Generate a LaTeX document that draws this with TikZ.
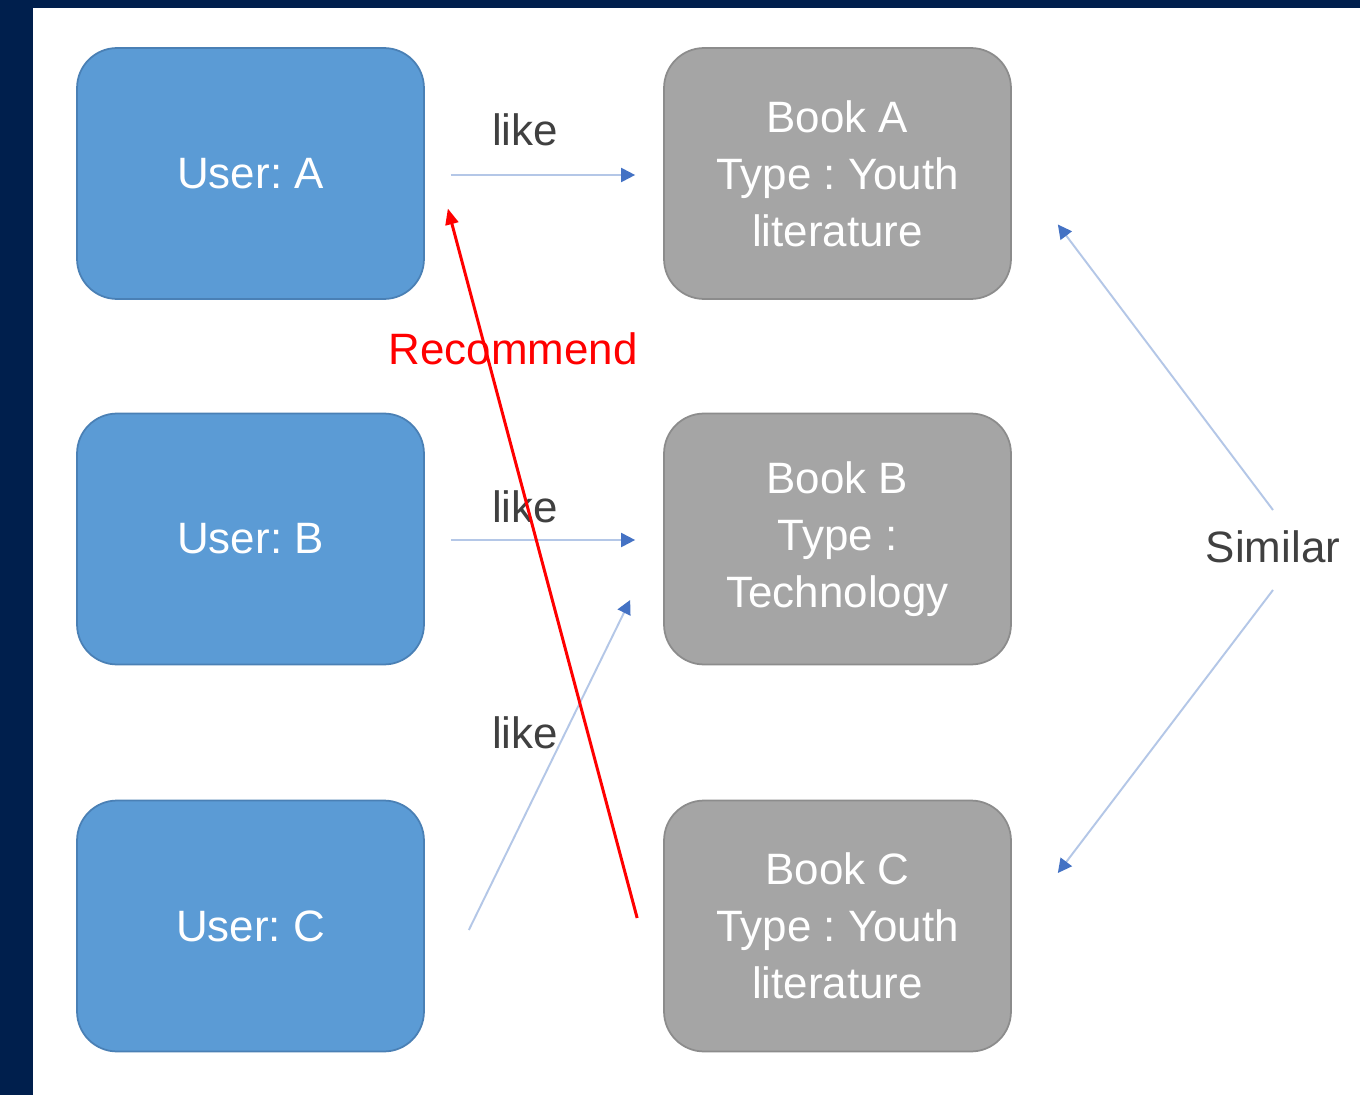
\documentclass[tikz,border=0pt]{standalone}
\usepackage{fontspec}
\setmainfont{Liberation Sans}
\usetikzlibrary{arrows.meta,calc}

\definecolor{navy}{HTML}{001F4D}
\definecolor{userfill}{HTML}{5B9BD5}
\definecolor{userline}{HTML}{4A80B5}
\definecolor{bookfill}{HTML}{A5A5A5}
\definecolor{bookline}{HTML}{8C8C8C}
\definecolor{likeline}{HTML}{B4C7E7}
\definecolor{liketip}{HTML}{4472C4}
\definecolor{labeltext}{HTML}{404040}

\frenchspacing

\tikzset{
  userbox/.style={rectangle, rounded corners=0.8cm, fill=userfill, draw=userline,
    line width=1pt, minimum width=6.94cm, minimum height=5.02cm, text=white,
    align=center, font=\fontsize{25}{32.4}\selectfont},
  bookbox/.style={userbox, fill=bookfill, draw=bookline},
  likearrow/.style={draw=likeline, line width=1.1pt,
    -{Triangle[length=0.28cm,width=0.28cm,color=liketip]}},
  recarrow/.style={draw=red, line width=1.7pt,
    -{Triangle[length=0.32cm,width=0.26cm]}},
  lbl/.style={text=labeltext, font=\fontsize{25}{30}\selectfont},
}

\begin{document}
\begin{tikzpicture}[x=0.02cm,y=-0.02cm]
% frame
\fill[navy] (0,0) rectangle (1360,1095);
\fill[white] (33,8) rectangle (1360,1095);

% users
\node[userbox] (uA) at (250.5,173.5) {User: A};
\node[userbox] (uB) at (250.5,539) {User: B};
\node[userbox] (uC) at (250.5,926) {User: C};

% books
\node[bookbox] (bA) at (837.5,173.5) {Book A\\Type : Youth\\literature};
\node[bookbox] (bB) at (837.5,539) {Book B\\Type :\\Technology};
\node[bookbox] (bC) at (837.5,926) {Book C\\Type : Youth\\literature};

% labels
\node[lbl] (like1) at (525,130) {like};
\node[lbl] (like2) at (525,507) {like};
\node[lbl] (like3) at (525,733) {like};
\node[lbl,text=red] (rec) at (513,349) {Recommend};
\node[lbl] (sim) at (1273,547) {Similar};

% connectors
\draw[likearrow] ($(uA.east)+(26,1.5)$) -- ($(bA.west)+(-28,1.5)$);
\draw[likearrow] ($(uB.east)+(26,1)$) -- ($(bB.west)+(-28,1)$);
\draw[likearrow] ($(uC.east)+(44,4)$) -- ($(bB.west)+(-33,61)$);
\draw[recarrow] ($(bC.west)+(-26,-8)$) -- ($(uA.east)+(23,35)$);
\draw[likearrow] ($(sim)+(0,-37)$) -- ($(bA.east)+(46,51)$);
\draw[likearrow] ($(sim)+(0,43)$) -- ($(bC.east)+(46,-53)$);
\end{tikzpicture}
\end{document}
